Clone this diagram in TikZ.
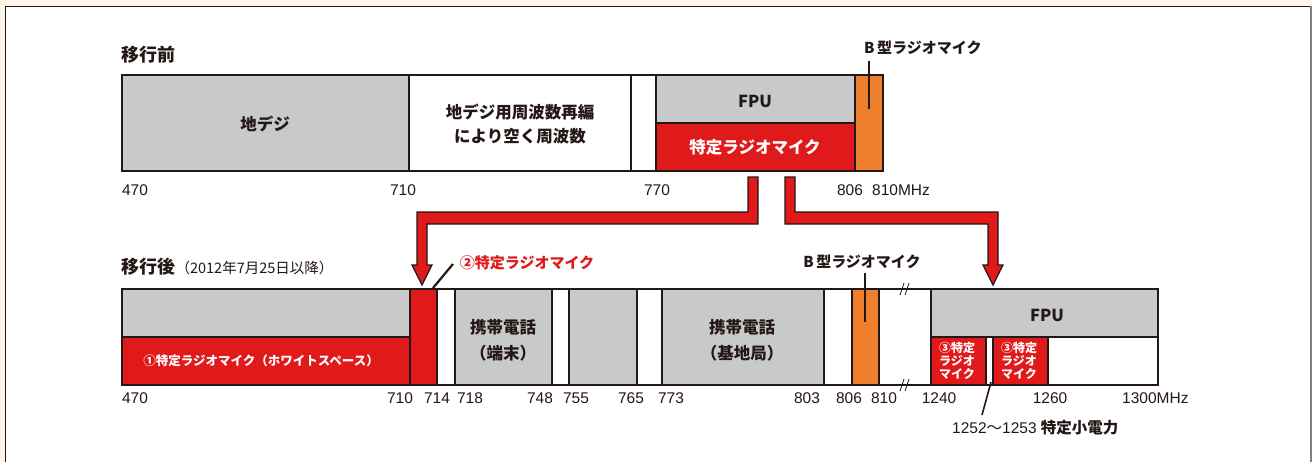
\documentclass[tikz,border=0pt]{standalone}
\usepackage{fontspec}
\setmainfont{Liberation Sans}
\newfontfamily\jp{Noto Sans CJK JP}
\definecolor{bandgray}{RGB}{200,201,202}
\definecolor{micred}{RGB}{224,25,26}
\definecolor{bmicorange}{RGB}{238,127,45}
\definecolor{inkdark}{RGB}{35,24,21}
\definecolor{papercream}{RGB}{255,245,232}

\begin{document}
\begin{tikzpicture}[x=1pt, y=-1pt, every node/.style={text=inkdark, inner sep=0pt}]
  \tikzset{
    band/.style={draw=inkdark, line width=1.5pt},
    leader/.style={draw=inkdark, line width=2.2pt},
    bigarrow/.style={fill=micred, draw=inkdark, line width=1.3pt, line join=miter},
    title/.style={font=\jp\bfseries\fontsize{18}{20}\selectfont},
    lbl/.style={font=\jp\bfseries\fontsize{16.5}{24}\selectfont, align=center},
    tag/.style={font=\jp\bfseries\fontsize{15}{18}\selectfont},
    num/.style={font=\fontsize{15.5}{18}\selectfont},
  }
  % paper and frame
  \fill[papercream] (0,0) rectangle (1312,462);
  \fill[white] (6,7) rectangle (1312,462);
  \draw[inkdark, line width=1.5pt] (5.5,462) -- (5.5,6.5) -- (1311,6.5);
  \draw[gray, line width=1.5pt] (1311,6.5) -- (1311,462);
  \useasboundingbox (0,0) rectangle (1312,462);

  % before the move
  \node[title, anchor=base west] (before) at (121,62) {移行前};
  \fill[bandgray] (122,75) rectangle (409,171);
  \fill[bandgray] (656,75) rectangle (855,123);
  \fill[micred] (656,123) rectangle (855,171);
  \fill[bmicorange] (855,75) rectangle (883,171);
  \draw[band] (122,75) rectangle (883,171);
  \foreach \x in {409,631,656,855} \draw[band] (\x,75) -- (\x,171);
  \draw[band] (656,123) -- (855,123);
  \node[lbl] (tvA) at (265,124) {地デジ};
  \node[lbl] (freed) at (520,124) {地デジ用周波数再編\\により空く周波数};
  \node[lbl] (fpuA) at (755,101) {FPU};
  \node[lbl, text=white] (micA) at (755,147) {特定ラジオマイク};
  \foreach \f/\x in {470/135,710/403,770/657,806/850}
    \node[num] (fA\f) at (\x,190) {\f};
  \node[num, anchor=west] (fA810) at (872,190) {810MHz};
  \node[tag, anchor=west] (bmicA) at (864,48) {B\,型ラジオマイク};
  \coordinate (bmicAtop) at (869,61);
  \coordinate (bmicAend) at (869,109);
  \draw[leader] (bmicAtop) -- (bmicAend);

  % moving arrows
  \filldraw[bigarrow] (748,177) -- (758,177) -- (758,224) -- (427,224) -- (427,265)
    -- (432,265) -- (422,285) -- (412,265) -- (417,265) -- (417,212) -- (748,212) -- cycle;
  \filldraw[bigarrow] (785,177) -- (795,177) -- (795,212) -- (998,212) -- (998,265)
    -- (1003,265) -- (993,285) -- (983,265) -- (988,265) -- (988,224) -- (785,224) -- cycle;

  % after the move
  \node[title, anchor=base west] (after) at (121,273) {移行後};
  \node[font=\jp\fontsize{14.5}{16}\selectfont, anchor=base west] (afterdate)
    at (after.base east) {（2012年7月25日以降）};
  \fill[bandgray] (122,289) rectangle (410,337);
  \fill[micred] (122,337) rectangle (410,385);
  \fill[micred] (410,289) rectangle (437,385);
  \foreach \a/\b in {455/552,569/637,662/824}
    \fill[bandgray] (\a,289) rectangle (\b,385);
  \fill[bmicorange] (852,289) rectangle (879,385);
  \fill[bandgray] (931,289) rectangle (1158,337);
  \fill[micred] (931,337) rectangle (986,385);
  \fill[micred] (993,337) rectangle (1048,385);
  \draw[band] (122,289) rectangle (1158,385);
  \foreach \x in {410,437,455,552,569,637,662,824,852,879,931}
    \draw[band] (\x,289) -- (\x,385);
  \foreach \x in {986,993,1048} \draw[band] (\x,337) -- (\x,385);
  \draw[band] (122,337) -- (410,337);
  \draw[band] (931,337) -- (1158,337);
  % break marks
  \foreach \y in {289,385} {
    \draw[inkdark, line width=0.8pt] (900,\y+6) -- (904,\y-6);
    \draw[inkdark, line width=0.8pt] (905,\y+6) -- (909,\y-6);
  }
  \node[font=\jp\bfseries\fontsize{12.5}{14}\selectfont, text=white] (wsmic) at (261,361)
    {①特定ラジオマイク（ホワイトスペース）};
  \node[lbl, font=\jp\bfseries\fontsize{16.5}{26}\selectfont] (cellT) at (503,340) {携帯電話\\（端末）};
  \node[lbl, font=\jp\bfseries\fontsize{16.5}{26}\selectfont] (cellB) at (742,340) {携帯電話\\（基地局）};
  \node[lbl] (fpuB) at (1047,315) {FPU};
  \foreach \n/\x in {1/957,2/1019}
    \node[font=\jp\bfseries\fontsize{12}{13}\selectfont, text=white, align=center] (micC\n)
      at (\x,361) {③特定\\ラジオ\\マイク};
  \foreach \f/\x in {470/135,710/400,714/437,718/470,748/540,755/576,765/631,773/671,803/807,806/849,810/884,1240/939,1260/1050}
    \node[num] (fB\f) at (\x,398) {\f};
  \node[num, anchor=west] (fB1300) at (1122,398) {1300MHz};

  % labels above and below
  \node[tag] (bmicB) at (862,262) {B\,型ラジオマイク};
  \coordinate (bmicBtop) at (865,273);
  \coordinate (bmicBend) at (865,322);
  \draw[leader] (bmicBtop) -- (bmicBend);
  \node[tag, text=micred] (micB) at (527,263) {②特定ラジオマイク};
  \coordinate (micBtop) at (453,264);
  \coordinate (micBend) at (433,288);
  \draw[leader] (micBtop) -- (micBend);
  \node[font=\fontsize{15.5}{18}\selectfont, anchor=west] (lowpow) at (952,428)
    {1252{\jp 〜}1253 {\jp\bfseries 特定小電力}};
  \coordinate (lowpowtop) at (982,415);
  \coordinate (lowpowend) at (991,382);
  \draw[leader, line width=1.6pt] (lowpowtop) -- (lowpowend);
\end{tikzpicture}
\end{document}
